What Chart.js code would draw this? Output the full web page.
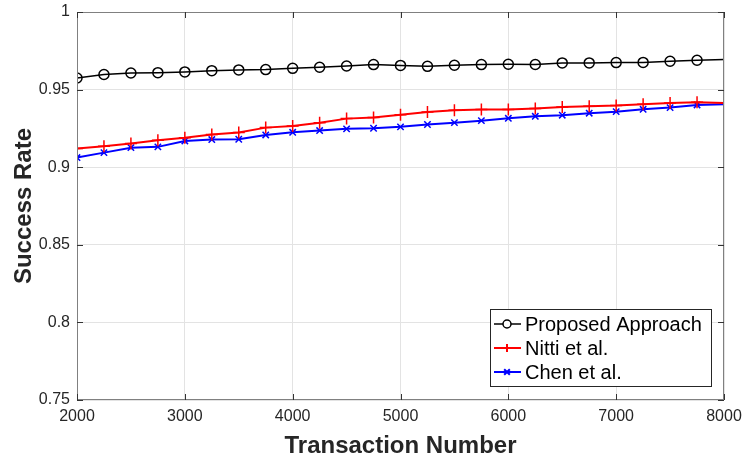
<!DOCTYPE html>
<html>
<head>
<meta charset="utf-8">
<script src="https://cdn.jsdelivr.net/npm/chart.js@4"></script>
<style>
  html, body { margin: 0; padding: 0; background: #fff; }
  #wrap { width: 742px; height: 465px; position: relative; }
</style>
</head>
<body>
<div id="wrap"><canvas id="chart"></canvas></div>
<script>
// transaction numbers (markers every 250, line ends at 8000)
const txNumbers = [2000, 2250, 2500, 2750, 3000, 3250, 3500, 3750, 4000, 4250, 4500, 4750,
  5000, 5250, 5500, 5750, 6000, 6250, 6500, 6750, 7000, 7250, 7500, 7750, 8000];

const proposed = [0.9575, 0.9597, 0.9607, 0.9609, 0.9614, 0.9622, 0.9627, 0.9629, 0.9637, 0.9644, 0.9652, 0.9661,
  0.9656, 0.9650, 0.9657, 0.9661, 0.9663, 0.9662, 0.9672, 0.9672, 0.9674, 0.9675, 0.9683, 0.9689, 0.9694];
const nitti = [0.9120, 0.9135, 0.9152, 0.9174, 0.9189, 0.9210, 0.9223, 0.9255, 0.9266, 0.9287, 0.9313, 0.9320,
  0.9338, 0.9356, 0.9367, 0.9371, 0.9371, 0.9378, 0.9388, 0.9393, 0.9397, 0.9406, 0.9414, 0.9418, 0.9414];
const chen = [0.9062, 0.9094, 0.9126, 0.9131, 0.9169, 0.9178, 0.9180, 0.9208, 0.9225, 0.9236, 0.9247, 0.9251,
  0.9260, 0.9275, 0.9287, 0.9300, 0.9315, 0.9328, 0.9335, 0.9348, 0.9358, 0.9373, 0.9384, 0.9401, 0.9405];

const seriesNames = ['Proposed Approach', 'Nitti et al.', 'Chen et al.'];
const xTicks = [2000, 3000, 4000, 5000, 6000, 7000, 8000];
const yTicks = [0.75, 0.8, 0.85, 0.9, 0.95, 1];

const FONT = '"Liberation Sans", Arial, Helvetica, sans-serif';
const TEXT = '#262626';

// no marker on the final point
const markerRadius = (r) => txNumbers.map((_, i) => i === txNumbers.length - 1 ? 0 : r);
const pts = (ys) => txNumbers.map((x, i) => ({ x, y: ys[i] }));

// MATLAB-like box with inward ticks on all four sides, plus legend
const boxPlugin = {
  id: 'box',
  afterDatasetsDraw(chart) {
    const { ctx, chartArea: a, scales } = chart;
    ctx.save();
    ctx.strokeStyle = '#808080';
    ctx.lineWidth = 1;
    ctx.strokeRect(a.left + 0.5, a.top + 0.5, a.right - a.left - 1, a.bottom - a.top - 1);
    ctx.strokeStyle = '#333';
    ctx.beginPath();
    xTicks.forEach(v => {
      const x = Math.round(scales.x.getPixelForValue(v)) + 0.5;
      ctx.moveTo(x, a.bottom); ctx.lineTo(x, a.bottom - 6);
      ctx.moveTo(x, a.top); ctx.lineTo(x, a.top + 6);
    });
    yTicks.forEach(v => {
      const y = Math.round(scales.y.getPixelForValue(v)) + 0.5;
      ctx.moveTo(a.left, y); ctx.lineTo(a.left + 6, y);
      ctx.moveTo(a.right, y); ctx.lineTo(a.right - 6, y);
    });
    ctx.stroke();
    ctx.restore();
  },
  afterDraw(chart) {
    const { ctx } = chart;
    const x0 = 490, y0 = 309, w = 221, h = 77;
    ctx.save();
    ctx.fillStyle = '#fff';
    ctx.fillRect(x0, y0, w, h);
    ctx.strokeStyle = '#262626';
    ctx.lineWidth = 1;
    ctx.strokeRect(x0 + 0.5, y0 + 0.5, w, h);
    ctx.font = '20px ' + FONT;
    ctx.textBaseline = 'middle';
    chart.data.datasets.forEach((ds, i) => {
      const y = y0 + 15 + i * 24;
      ctx.strokeStyle = ds.borderColor;
      ctx.lineWidth = ds.borderWidth;
      ctx.beginPath();
      ctx.moveTo(x0 + 4, y); ctx.lineTo(x0 + 31, y);
      ctx.stroke();
      Chart.helpers.drawPoint(ctx, {
        pointStyle: ds.pointStyle, radius: 4, borderWidth: 1.5, rotation: 0
      }, x0 + 17, y);
      ctx.fillStyle = '#000';
      ctx.fillText(ds.label, x0 + 35, y + 1);
    });
    ctx.restore();
  }
};

new Chart(document.getElementById('chart'), {
  type: 'line',
  data: {
    datasets: [{
      label: seriesNames[0],
      data: pts(proposed),
      borderColor: '#000',
      backgroundColor: 'rgba(0,0,0,0)',
      pointBorderColor: '#000',
      borderWidth: 1.5,
      pointStyle: 'circle',
      pointRadius: markerRadius(5),
      pointBorderWidth: 1.5,
      tension: 0
    }, {
      label: seriesNames[1],
      data: pts(nitti),
      borderColor: '#ff0000',
      backgroundColor: 'rgba(0,0,0,0)',
      pointBorderColor: '#ff0000',
      borderWidth: 2,
      pointStyle: 'cross',
      pointRadius: markerRadius(6),
      pointBorderWidth: 1.5,
      tension: 0
    }, {
      label: seriesNames[2],
      data: pts(chen),
      borderColor: '#0000ff',
      backgroundColor: 'rgba(0,0,0,0)',
      pointBorderColor: '#0000ff',
      borderWidth: 2,
      pointStyle: 'crossRot',
      pointRadius: markerRadius(4.5),
      pointBorderWidth: 1.5,
      tension: 0
    }]
  },
  options: {
    responsive: true,
    maintainAspectRatio: false,
    animation: false,
    layout: { padding: { top: 12, right: 18, left: 6, bottom: 0 } },
    plugins: { legend: { display: false }, tooltip: { enabled: false } },
    scales: {
      x: {
        type: 'linear',
        min: 2000, max: 8000,
        border: { display: false },
        grid: { color: '#e3e3e3', drawTicks: false },
        afterBuildTicks: (s) => { s.ticks = xTicks.map(v => ({ value: v })); },
        afterFit: (s) => { s.height = 65; s.paddingLeft = 0; s.paddingRight = 0; },
        ticks: {
          color: TEXT, font: { family: FONT, size: 16 }, padding: 7,
          maxRotation: 0, callback: (v) => String(v)
        },
        title: {
          display: true, text: 'Transaction Number', color: TEXT,
          font: { family: FONT, size: 24, weight: 'bold' }, padding: { top: 0 }
        }
      },
      y: {
        min: 0.75, max: 1,
        border: { display: false },
        grid: { color: '#e3e3e3', drawTicks: false },
        afterBuildTicks: (s) => { s.ticks = yTicks.map(v => ({ value: v })); },
        afterFit: (s) => { s.width = 71; s.paddingTop = 0; s.paddingBottom = 0; },
        ticks: {
          color: TEXT, font: { family: FONT, size: 16 }, padding: 7,
          callback: (v) => String(+v.toFixed(2))
        },
        title: {
          display: true, text: 'Success Rate', color: TEXT,
          font: { family: FONT, size: 24, weight: 'bold' }, padding: { bottom: 0 }
        }
      }
    }
  },
  plugins: [boxPlugin]
});
</script>
</body>
</html>
